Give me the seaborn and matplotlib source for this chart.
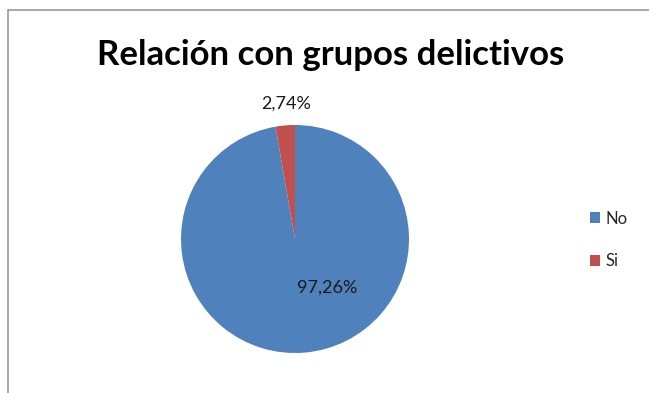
import matplotlib
matplotlib.use("Agg")
import matplotlib.pyplot as plt
import seaborn as sns
from matplotlib.lines import Line2D
from matplotlib.patches import Patch

sns.set_theme(style="white")
plt.rcParams['font.family'] = ['Lato', 'DejaVu Sans']

categories = ["No", "Si"]
values = [97.26, 2.74]
value_labels = ["97,26%", "2,74%"]
colors = ["#4F81BD", "#C0504D"]

fig = plt.figure(figsize=(6.49, 3.93), dpi=100)
fig.patch.set_facecolor("white")

# chart frame
fc = "#9a9a9a"
fig.add_artist(Line2D([7.5/649, 7.5/649], [0, 1 - 9.5/393], transform=fig.transFigure, color=fc, lw=1.2))
fig.add_artist(Line2D([7.5/649, 1], [1 - 9.5/393, 1 - 9.5/393], transform=fig.transFigure, color=fc, lw=1.2))

ax = fig.add_axes([(295 - 114) / 649, (393 - 239 - 114) / 393, 228 / 649, 228 / 393])
wedges, _ = ax.pie(values, colors=colors, startangle=90, counterclock=False,
                   radius=1, wedgeprops=dict(linewidth=0))
ax.set_xlim(-1, 1)
ax.set_ylim(-1, 1)
ax.set_aspect("equal")
ax.axis("off")

ax.text(0.28, -0.43, value_labels[0], ha="center", va="center", fontsize=13, color="#1a1a1a")
ax.text(-0.08, 1.19, value_labels[1], ha="center", va="center", fontsize=13, color="#1a1a1a")

fig.text(331 / 649, 1 - 55 / 393, "Relación con grupos delictivos", ha="center", va="center",
         fontsize=25, fontweight="bold", color="black")

handles = [Patch(facecolor=c, edgecolor="none") for c in colors]
fig.legend(handles, categories, loc="center left", bbox_to_anchor=(578 / 649, 1 - 240 / 393),
           frameon=False, fontsize=12, handlelength=0.62, handleheight=0.62, handletextpad=0.35,
           labelspacing=1.6, borderpad=0.2)

fig.savefig("out.png", dpi=100)
